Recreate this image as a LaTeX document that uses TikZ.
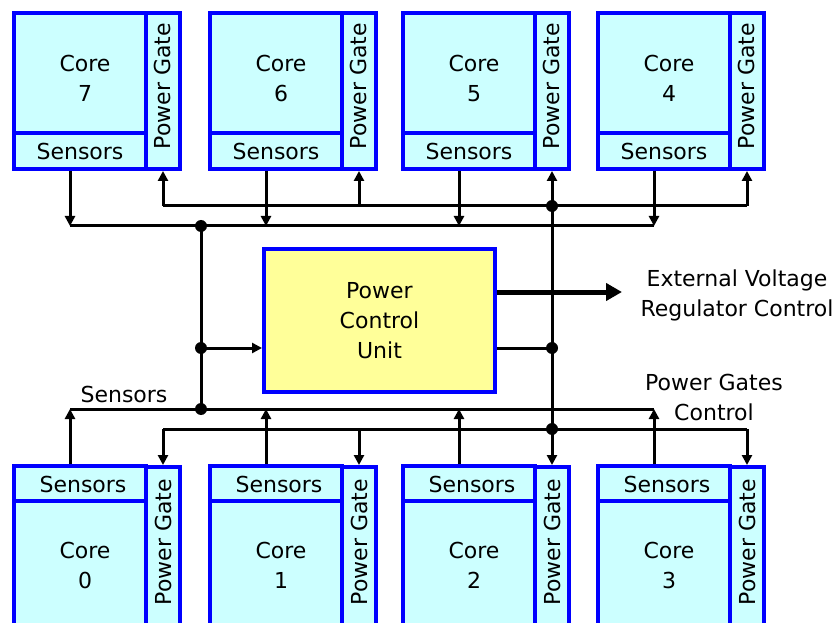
\documentclass[tikz,border=0pt]{standalone}
\usepackage{fontspec}
\setmainfont{DejaVu Sans}
\usetikzlibrary{arrows.meta,calc}
\definecolor{edgeblue}{RGB}{0,0,255}
\definecolor{unitfill}{RGB}{204,255,255}
\definecolor{pcufill}{RGB}{255,255,153}
\newcommand{\lblfont}{\fontsize{22}{30}\selectfont}
\tikzset{
  block/.style={draw=edgeblue, fill=unitfill, line width=4pt, inner sep=0pt},
  pcubox/.style={draw=edgeblue, fill=pcufill, line width=4pt, inner sep=0pt,
    minimum width=231pt, minimum height=143pt, align=center, font=\lblfont},
  txt/.style={inner sep=0pt, align=center, font=\lblfont},
  conn/.style={line width=3pt, draw=black},
  tip/.style={-{Triangle[length=10pt,width=10pt]}},
  bigtip/.style={line width=5pt, -{Triangle[length=16pt,width=17pt]}},
  junction/.style={circle, fill=black, inner sep=0pt, minimum size=12pt}
}
\begin{document}
\begin{tikzpicture}[x=1pt,y=-1pt]
\useasboundingbox (0,0) rectangle (839,623);
\clip (0,0) rectangle (839,623);
\fill[white] (0,0) rectangle (839,623);

% upper row of cores: number / left edge
\foreach \k/\lo in {7/12, 6/208, 5/401, 4/596}{
  \node[block, minimum width=132pt, minimum height=120pt] (c\k) at (\lo+68,73) {};
  \node[block, minimum width=132pt, minimum height=36pt] (s\k) at (\lo+68,151) {};
  \node[block, minimum width=34pt, minimum height=156pt] (p\k) at (\lo+151,91) {};
  \node[txt] (ct\k) at (\lo+73,78) {Core\\\k};
  \node[txt] (st\k) at (\lo+68,151) {Sensors};
  \node[txt, rotate=90] (pt\k) at (\lo+150,86) {Power Gate};
}

% lower row of cores
\foreach \k/\lo in {0/12, 1/208, 2/401, 3/596}{
  \node[block, minimum width=132pt, minimum height=36pt] (s\k) at (\lo+68,484) {};
  \node[block, minimum width=132pt, minimum height=140pt] (c\k) at (\lo+68,571) {};
  \node[block, minimum width=34pt, minimum height=175pt] (p\k) at (\lo+151,554.5) {};
  \node[txt] (ct\k) at (\lo+73,565) {Core\\\k};
  \node[txt] (st\k) at (\lo+71,484) {Sensors};
  \node[txt, rotate=90] (pt\k) at (\lo+151,542) {Power Gate};
}

% power control unit
\node[pcubox] (pcu) at (379.5,320.5) {Power\\Control\\Unit};

% bus tap points
\foreach \k in {7,6,5,4}{
  \coordinate (ts\k) at ($([xshift=-10pt]s\k.south)!1!([xshift=-10pt]s\k.south |- 0,226)$);
  \coordinate (tp\k) at (p\k.south |- 0,206);
}
\foreach \k in {0,1,2,3}{
  \coordinate (bs\k) at ([xshift=-10pt]s\k.north |- 0,409);
  \coordinate (bp\k) at (p\k.north |- 0,429);
}
\coordinate (jt) at (201,226);
\coordinate (jm) at (201,348);
\coordinate (jb) at (201,409);
\coordinate (jr) at (tp5 |- 0,348);
\coordinate (evr) at (622,292);

% upper buses
\draw[conn] (ts7) -- (ts4);
\draw[conn] (tp7) -- (tp4);
\foreach \k in {7,6,5,4}{
  \draw[conn, tip] ([xshift=-10pt]s\k.south) -- (ts\k);
  \draw[conn, tip] (tp\k) -- (p\k.south);
}

% lower buses
\draw[conn] (bs0) -- (bs3);
\draw[conn] (bp0) -- (bp3);
\foreach \k in {0,1,2,3}{
  \draw[conn, tip] ([xshift=-10pt]s\k.north) -- (bs\k);
  \draw[conn, tip] (bp\k) -- (p\k.north);
}

% sensor trunk into the control unit
\draw[conn] (jt) -- (jb);
\draw[conn, tip] (jm) -- (jm -| pcu.west);

% power gate trunk
\draw[conn] (tp5) -- (bp2);
\draw[conn] (pcu.east |- jr) -- (jr);

% regulator output
\draw[bigtip] (pcu.east |- evr) -- (evr);

% junction dots
\foreach \j in {jt,jm,jb,tp5,jr,bp2}{
  \node[junction] (d\j) at (\j) {};
}

% labels
\node[txt] (extlbl) at (737,295) {External Voltage\\Regulator Control};
\node[txt] (senslbl) at (124,394) {Sensors};
\node[txt] (pglbl) at (714,397) {Power Gates\\Control};
\end{tikzpicture}
\end{document}
